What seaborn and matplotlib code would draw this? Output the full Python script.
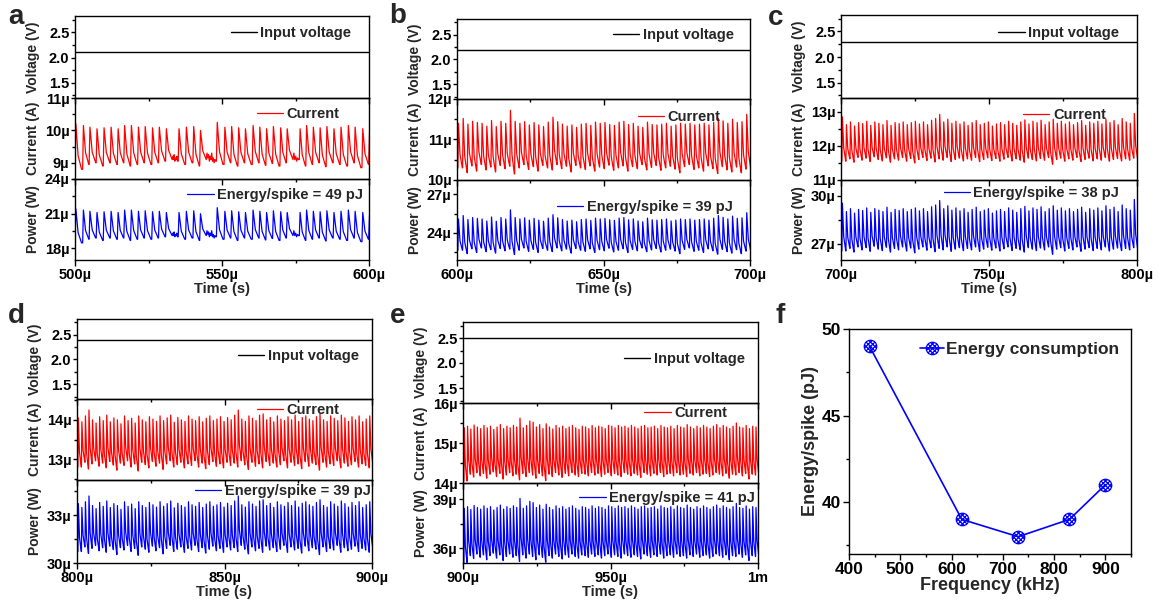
import numpy as np
import matplotlib
matplotlib.use("Agg")
import matplotlib.pyplot as plt
import seaborn as sns
from matplotlib.path import Path
from matplotlib.ticker import FixedLocator, FuncFormatter

# ---------------- data ----------------
freq_khz = [440, 620, 730, 830, 900]
energy_pj = [49, 39, 38, 39, 41]
input_voltage = [2.1, 2.2, 2.3, 2.4, 2.5]
window_start_us = [500, 600, 700, 800, 900]
energy_labels = ["Energy/spike = 49 pJ", "Energy/spike = 39 pJ", "Energy/spike = 38 pJ",
                 "Energy/spike = 39 pJ", "Energy/spike = 41 pJ"]

# panel a: irregular spiking (onset times in us, peak / trough current in uA)
a_spike_t = [500.0, 502.6, 504.8, 507.2, 509.6, 512.0, 514.4, 516.6, 518.9, 521.3, 523.6, 526.1, 528.4, 530.8,
             535.1, 537.6, 540.1, 542.4,
             548.1, 550.7, 553.0, 555.4, 557.7, 560.3, 562.6, 564.9, 567.2, 569.7, 571.9,
             576.3, 578.5, 580.8, 583.1, 585.4, 587.8, 590.2, 592.7, 595.0, 597.6, 599.9]
a_peak = [10.20, 10.15, 10.10, 10.05, 10.08, 10.10, 10.05, 10.15, 10.15, 10.10, 10.12, 10.08, 10.10, 10.05,
          10.05, 10.10, 10.12, 10.00,
          10.25, 10.10, 10.12, 10.08, 10.05, 10.15, 10.10, 10.05, 10.12, 10.08, 10.05,
          10.05, 10.15, 10.10, 10.08, 10.12, 10.05, 10.10, 10.15, 10.10, 10.05, 9.95]
a_trough = [8.80, 8.95, 9.00, 8.90, 9.00, 8.95, 9.00, 8.90, 8.95, 9.00, 8.95, 9.00, 9.05, 9.10,
            8.95, 9.00, 8.90, 9.10,
            8.95, 9.00, 8.90, 9.00, 8.95, 9.00, 8.92, 8.98, 8.90, 9.00, 9.10,
            8.90, 8.95, 9.00, 8.88, 9.00, 8.95, 8.90, 9.00, 8.85, 8.95, 8.85]
a_quiet_start = [532.6, 544.2, 573.8]
a_quiet_levels = [[9.20, 9.10, 9.25, 9.05, 9.15, 9.10, 9.20, 9.05],
                  [9.30, 9.15, 9.25, 9.05, 9.20, 9.10, 9.30, 9.05, 9.15, 9.00, 9.10, 9.05],
                  [9.30, 9.10, 9.20, 9.05, 9.15, 9.10]]

b_peak = [11.40, 11.52, 11.38, 11.45, 11.42, 11.40, 11.33, 11.47, 11.32, 11.45, 11.40, 11.72,
          11.45, 11.40, 11.44, 11.36, 11.42, 11.36, 11.32, 11.43, 11.55, 11.44, 11.38, 11.33, 11.36, 11.30,
          11.38, 11.40, 11.35, 11.43, 11.40, 11.42, 11.37, 11.35, 11.43, 11.45, 11.37, 11.40, 11.33, 11.30,
          11.43, 11.37, 11.36, 11.38, 11.40, 11.33, 11.36, 11.40, 11.38, 11.40, 11.36, 11.38, 11.40, 11.36,
          11.43, 11.52, 11.46, 11.40, 11.50, 11.42, 11.44, 11.62]
b_trough = [10.30, 10.18, 10.35, 10.22, 10.38, 10.25, 10.32, 10.20, 10.36, 10.28, 10.34, 10.15,
            10.30, 10.38, 10.26, 10.33, 10.22, 10.36, 10.30, 10.25, 10.38, 10.28, 10.34, 10.20, 10.36, 10.30,
            10.26, 10.35, 10.22, 10.32, 10.28, 10.37, 10.24, 10.30, 10.35, 10.22, 10.33, 10.28, 10.38, 10.25,
            10.31, 10.36, 10.24, 10.30, 10.34, 10.27, 10.18, 10.33, 10.38, 10.26, 10.30, 10.22, 10.35, 10.28,
            10.16, 10.33, 10.25, 10.20, 10.32, 10.18, 10.27, 10.30]

c_peak = [12.85, 12.62, 12.70, 12.58, 12.68, 12.65, 12.72, 12.60, 12.70, 12.66, 12.62, 12.74, 12.60, 12.68,
          12.65, 12.70, 12.62, 12.68, 12.72, 12.64, 12.70, 12.62, 12.75, 12.80, 12.92, 12.70, 12.78, 12.66,
          12.72, 12.64, 12.70, 12.60, 12.68, 12.74, 12.62, 12.66, 12.70, 12.58, 12.64, 12.68, 12.62, 12.72,
          12.66, 12.60, 12.70, 12.76, 12.64, 12.72, 12.68, 12.75, 12.62, 12.70, 12.78, 12.66, 12.72, 12.64,
          12.70, 12.62, 12.68, 12.74, 12.60, 12.70, 12.66, 12.72, 12.64, 12.78, 12.68, 12.74, 12.62, 12.80,
          12.70, 12.66, 12.95]
c_trough = [11.55, 11.62, 11.52, 11.66, 11.58, 11.64, 11.54, 11.68, 11.60, 11.56, 11.65, 11.52, 11.62, 11.58,
            11.66, 11.55, 11.63, 11.50, 11.60, 11.66, 11.57, 11.64, 11.53, 11.62, 11.58, 11.66, 11.54, 11.60,
            11.64, 11.56, 11.62, 11.58, 11.66, 11.54, 11.60, 11.65, 11.57, 11.63, 11.55, 11.61, 11.66, 11.56,
            11.62, 11.58, 11.52, 11.64, 11.60, 11.56, 11.63, 11.58, 11.66, 11.46, 11.60, 11.64, 11.55, 11.62,
            11.58, 11.66, 11.54, 11.60, 11.64, 11.56, 11.62, 11.58, 11.66, 11.55, 11.60, 11.63, 11.56, 11.62,
            11.58, 11.64, 11.60]

d_peak = [14.05, 13.95, 14.10, 14.25, 14.00, 13.92, 14.08, 13.98, 14.12, 13.95, 14.05, 14.00, 13.90, 14.10,
          13.98, 14.04, 13.92, 14.10, 14.00, 13.95, 14.08, 14.02, 13.96, 14.10, 13.98, 14.05, 14.12, 13.94,
          14.06, 14.00, 13.96, 14.10, 14.02, 13.98, 14.08, 13.95, 14.04, 14.10, 13.98, 14.02, 14.08, 13.96,
          14.06, 14.00, 14.12, 14.25, 14.02, 13.96, 14.10, 14.04, 13.98, 14.12, 14.15, 14.00, 14.06, 13.95,
          14.10, 14.02, 13.98, 14.08, 14.00, 14.12, 13.96, 14.06, 14.10, 14.02, 13.98, 14.08, 14.15, 14.00,
          13.96, 14.10, 14.04, 13.98, 14.12, 14.05, 13.96, 14.08, 14.00, 14.10, 13.95, 14.02, 14.10]
d_trough = [12.80, 12.92, 12.75, 12.88, 12.96, 12.82, 12.90, 12.78, 12.94, 12.85, 12.72, 12.90, 12.84, 12.96,
            12.80, 12.88, 12.70, 12.92, 12.86, 12.78, 12.94, 12.82, 12.90, 12.74, 12.88, 12.96, 12.80, 12.86,
            12.92, 12.78, 12.88, 12.84, 12.96, 12.80, 12.90, 12.76, 12.86, 12.94, 12.82, 12.88, 12.78, 12.92,
            12.84, 12.90, 12.80, 12.96, 12.86, 12.74, 12.92, 12.82, 12.88, 12.78, 12.94, 12.84, 12.90, 12.80,
            12.86, 12.96, 12.78, 12.92, 12.84, 12.88, 12.76, 12.94, 12.82, 12.90, 12.86, 12.72, 12.92, 12.80,
            12.88, 12.84, 12.96, 12.78, 12.90, 12.82, 12.86, 12.94, 12.80, 12.88, 12.84, 12.78, 12.90]

e_peak = [15.38, 15.42, 15.35, 15.45, 15.40, 15.36, 15.44, 15.38, 15.42, 15.34, 15.40, 15.46, 15.36, 15.42, 15.38,
          15.44, 15.40, 15.62, 15.38, 15.44, 15.55, 15.52, 15.40, 15.46, 15.36, 15.48, 15.40, 15.35, 15.44, 15.38,
          15.42, 15.36, 15.40, 15.44, 15.38, 15.34, 15.42, 15.40, 15.36, 15.44, 15.38, 15.42, 15.40, 15.36, 15.44,
          15.42, 15.38, 15.44, 15.40, 15.42, 15.38, 15.44, 15.40, 15.36, 15.42, 15.44, 15.38, 15.40, 15.42, 15.36,
          15.44, 15.40, 15.38, 15.42, 15.36, 15.44, 15.40, 15.38, 15.46, 15.40, 15.36, 15.42, 15.38, 15.44, 15.40,
          15.36, 15.42, 15.46, 15.38, 15.44, 15.40, 15.36, 15.42, 15.50, 15.40, 15.38, 15.44, 15.36, 15.42, 15.40]
e_trough = [14.05, 14.22, 14.15, 14.26, 14.18, 14.24, 14.12, 14.22, 14.28, 14.16, 14.24, 14.10, 14.20, 14.26, 14.18,
            14.22, 14.08, 14.24, 14.16, 14.26, 14.20, 14.12, 14.24, 14.18, 14.06, 14.22, 14.16, 14.26, 14.20, 14.14,
            14.24, 14.18, 14.26, 14.20, 14.16, 14.24, 14.22, 14.18, 14.26, 14.20, 14.24, 14.16, 14.22, 14.26, 14.18,
            14.24, 14.20, 14.16, 14.26, 14.22, 14.18, 14.24, 14.20, 14.14, 14.26, 14.22, 14.18, 14.24, 14.20, 14.26,
            14.16, 14.22, 14.24, 14.18, 14.26, 14.20, 14.22, 14.16, 14.24, 14.20, 14.26, 14.18, 14.22, 14.24, 14.16,
            14.20, 14.26, 14.22, 14.18, 14.24, 14.12, 14.22, 14.20, 14.26, 14.18, 14.24, 14.10, 14.22, 14.20, 14.24]

# ---------------- style ----------------
sns.set_theme(style="ticks")
plt.rcParams["font.family"] = ["Liberation Sans", "DejaVu Sans"]
plt.rcParams["font.weight"] = "bold"
plt.rcParams["axes.labelweight"] = "bold"
plt.rcParams["axes.edgecolor"] = "black"
plt.rcParams["axes.linewidth"] = 1.0
plt.rcParams["xtick.color"] = "black"
plt.rcParams["ytick.color"] = "black"

W, H = 1160, 605
fig = plt.figure(figsize=(W / 100, H / 100), dpi=100)
FS = 10.5
LFS = 10.0


def add_ax(l, t, r, b):
    ax = fig.add_axes([l / W, 1 - b / H, (r - l) / W, (b - t) / H])
    ax.patch.set_alpha(0)
    for s in ax.spines.values():
        s.set_color("black")
        s.set_linewidth(1.0)
    return ax


def spike_trace(times, peaks, troughs, period, t0, t1, q_starts=(), q_levels=()):
    ts, ys = [t0], [troughs[0]]
    level = troughs[0]
    for i in range(len(times)):
        t, p, tr = times[i], peaks[i], troughs[i]
        nxt = times[i + 1] if i + 1 < len(times) else t1 + period
        T = min(nxt - t, period)
        ts += [t, t + 0.12 * T, t + 0.45 * T, t + 0.95 * T]
        ys += [level, p, tr + 0.3 * (p - tr), tr]
        level = tr
        for qs, lv in zip(q_starts, q_levels):
            if t < qs < nxt:
                qt = np.linspace(t + 0.95 * T, nxt, len(lv) + 2)[1:-1]
                ts += list(qt)
                ys += list(lv)
                level = lv[-1]
    return np.array(ts), np.array(ys)


def us_fmt(v, pos=None):
    if abs(v - 1000) < 1e-6:
        return "1m"
    return f"{v:g}\u00b5"


peaks_all = [a_peak, b_peak, c_peak, d_peak, e_peak]
troughs_all = [a_trough, b_trough, c_trough, d_trough, e_trough]

# layout: (left, top, boundary1, boundary2, right, bottom) in px
boxes = [(75, 16, 98, 179, 369, 260),
         (457, 19, 99, 180, 750, 260),
         (841, 15, 98, 180, 1137, 260),
         (77, 319, 399, 480, 372, 563),
         (463, 322, 403, 483, 758, 563)]
cur_lim = [(8.5, 11), (10, 12), (11, 13.4), (12.47, 14.53), (14, 16)]
cur_ticks = [[9, 10, 11], [10, 11, 12], [11, 12, 13], [13, 14], [14, 15, 16]]
pow_lim = [(17, 24), (21.9, 28.1), (26, 31), (30, 35.2), (35.1, 40)]
pow_ticks = [[18, 21, 24], [24, 27], [27, 30], [30, 33], [36, 39]]
leg_v = [(0.96, 0.79), (0.965, 0.80), (0.96, 0.78), (0.975, 0.54), (0.975, 0.54)]
leg_i = [(0.92, 0.80), (0.92, 0.78), (0.915, 0.79), (0.91, 0.86), (0.915, 0.87)]
leg_p = [(1.0, 0.80), (0.96, 0.66), (0.96, 0.84), (1.015, 0.87), (1.01, 0.81)]
letters = ["a", "b", "c", "d", "e"]
letter_pos = [(16, 17), (398, 16), (776, 18), (16, 316), (398, 316)]


def leg(ax, anchor):
    ax.legend(loc="center right", bbox_to_anchor=anchor, frameon=False,
              prop={"weight": "bold", "size": FS}, handlelength=1.8,
              handletextpad=0.25, borderaxespad=0)


for k in range(5):
    l, t, b1, b2, r, b = boxes[k]
    t0 = window_start_us[k]
    t1 = t0 + 100
    v = input_voltage[k]
    if k == 0:
        ts, cur = spike_trace(a_spike_t, a_peak, a_trough, 2.35, t0, t1,
                              a_quiet_start, a_quiet_levels)
    else:
        period = 1000.0 / freq_khz[k]
        times = [t0 + 0.3 + i * period for i in range(len(peaks_all[k]))]
        ts, cur = spike_trace(times, peaks_all[k], troughs_all[k], period, t0, t1)
    pw = cur * v

    axv = add_ax(l, t, r, b1)
    axi = add_ax(l, b1, r, b2)
    axp = add_ax(l, b2, r, b)

    sns.lineplot(x=[t0, t1], y=[v, v], ax=axv, color="black", linewidth=1.0,
                 label="Input voltage")
    sns.lineplot(x=ts, y=cur, ax=axi, color="#ff0000", linewidth=0.9,
                 label="Current", estimator=None, sort=False)
    sns.lineplot(x=ts, y=pw, ax=axp, color="#0000ff", linewidth=0.9,
                 label=energy_labels[k], estimator=None, sort=False)

    axv.set_ylim(1.2, 2.82)
    axv.yaxis.set_major_locator(FixedLocator([1.5, 2.0, 2.5]))
    axv.yaxis.set_minor_locator(FixedLocator([1.25, 1.75, 2.25, 2.75]))
    axv.yaxis.set_major_formatter(FuncFormatter(lambda x, p: f"{x:.1f}"))
    axi.set_ylim(*cur_lim[k])
    axi.yaxis.set_major_locator(FixedLocator(cur_ticks[k]))
    axi.yaxis.set_minor_locator(FixedLocator([c + 0.5 for c in range(8, 17)]))
    axi.yaxis.set_major_formatter(FuncFormatter(us_fmt))
    axp.set_ylim(*pow_lim[k])
    axp.yaxis.set_major_locator(FixedLocator(pow_ticks[k]))
    axp.yaxis.set_minor_locator(FixedLocator([c + 1.5 for c in range(15, 42, 3)]))
    axp.yaxis.set_major_formatter(FuncFormatter(us_fmt))

    for ax, lab in [(axv, "Voltage (V)"), (axi, "Current (A)"), (axp, "Power (W)")]:
        ax.set_xlim(t0, t1)
        ax.xaxis.set_major_locator(FixedLocator([t0, t0 + 50, t0 + 100]))
        ax.xaxis.set_minor_locator(FixedLocator([t0 + 25, t0 + 75]))
        ax.tick_params(axis="x", which="major", direction="out", length=4, width=1,
                       labelsize=FS, pad=2)
        ax.tick_params(axis="y", which="major", direction="out", length=3, width=1,
                       labelsize=FS, pad=1)
        ax.tick_params(axis="both", which="minor", direction="out", length=2.5, width=1)
        ax.set_ylabel(lab, fontsize=LFS, fontweight="bold")
        ax.yaxis.set_label_coords(-0.118, 0.5)
        for tl in ax.get_yticklabels():
            tl.set_fontweight("bold")
    for ax in (axv, axi):
        ax.set_xlabel("")
        ax.tick_params(axis="x", labelbottom=False)
    axp.xaxis.set_major_formatter(FuncFormatter(us_fmt))
    axp.set_xlabel("Time (s)", fontsize=FS, fontweight="bold", labelpad=0)
    for tl in axp.get_xticklabels():
        tl.set_fontweight("bold")

    leg(axv, leg_v[k])
    leg(axi, leg_i[k])
    leg(axp, leg_p[k])

    fig.text(letter_pos[k][0] / W, 1 - letter_pos[k][1] / H, letters[k],
             ha="center", va="center", fontsize=20, fontweight="bold")

# ---------------- panel f ----------------
circle = Path.unit_circle()
verts, codes = [], []
s2 = np.sqrt(0.5)
for d in (-0.5, 0.0, 0.5):
    h = np.sqrt(1 - d * d)
    for sgn in (1, -1):
        cx, cy = d * s2, -sgn * d * s2
        dx, dy = h * s2, sgn * h * s2
        verts += [(cx - dx, cy - dy), (cx + dx, cy + dy)]
        codes += [Path.MOVETO, Path.LINETO]
hatch = Path(verts, codes)
marker_path = Path.make_compound_path(circle, hatch)

axf = add_ax(849, 329, 1131, 554)
sns.lineplot(x=freq_khz, y=energy_pj, ax=axf, color="#0000ff", linewidth=1.2,
             marker=marker_path, markersize=9, markerfacecolor="none",
             markeredgecolor="#0000ff", markeredgewidth=0.9,
             label="Energy consumption")
axf.set_xlim(400, 950)
axf.set_ylim(37, 50)
axf.xaxis.set_major_locator(FixedLocator([400, 500, 600, 700, 800, 900]))
axf.xaxis.set_minor_locator(FixedLocator([450, 550, 650, 750, 850, 950]))
axf.yaxis.set_major_locator(FixedLocator([40, 45, 50]))
axf.yaxis.set_minor_locator(FixedLocator([37.5, 42.5, 47.5]))
axf.tick_params(axis="both", which="major", direction="out", length=4, width=1,
                labelsize=12.5, pad=2)
axf.tick_params(axis="both", which="minor", direction="out", length=2.5, width=1)
for tl in axf.get_xticklabels() + axf.get_yticklabels():
    tl.set_fontweight("bold")
axf.set_xlabel("Frequency (kHz)", fontsize=13, fontweight="bold", labelpad=0)
axf.set_ylabel("Energy/spike (pJ)", fontsize=13, fontweight="bold")
axf.yaxis.set_label_coords(-0.105, 0.5)
axf.legend(loc="center right", bbox_to_anchor=(0.982, 0.91), frameon=False,
           prop={"weight": "bold", "size": 12.5}, handlelength=1.4,
           handletextpad=0.1, borderaxespad=0, numpoints=1)
fig.text(780 / W, 1 - 316 / H, "f", ha="center", va="center", fontsize=20, fontweight="bold")

fig.savefig("out.png", dpi=100)
